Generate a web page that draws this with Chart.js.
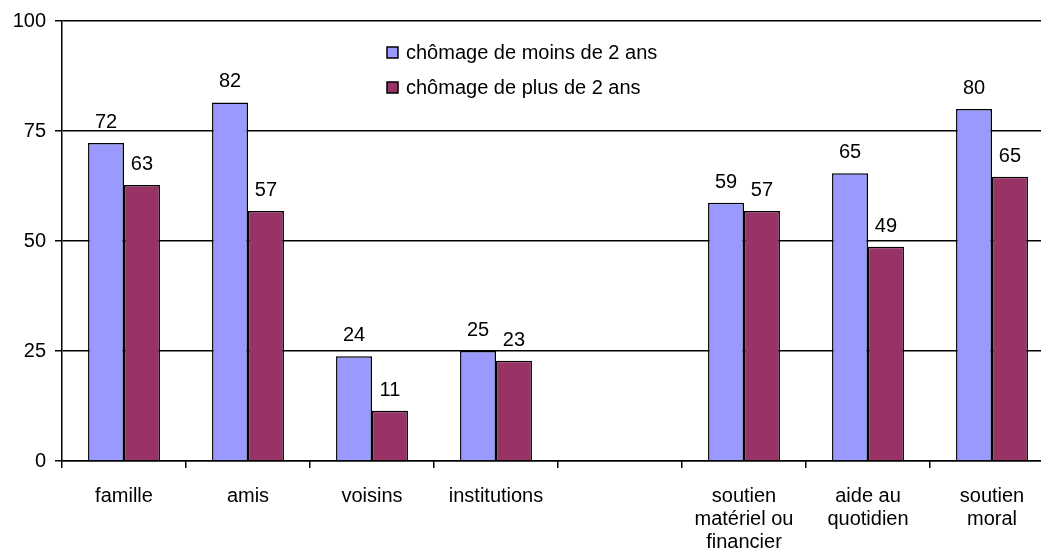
<!DOCTYPE html>
<html>
<head>
<meta charset="utf-8">
<script src="https://cdn.jsdelivr.net/npm/chart.js@4/dist/chart.umd.min.js"></script>
<style>
html,body{margin:0;padding:0;background:#fff;overflow:hidden;width:1041px;height:556px;}
#wrap{position:absolute;left:0;top:0;width:1070px;height:556px;}
</style>
</head>
<body>
<div id="wrap"><canvas id="c" width="1070" height="556"></canvas></div>
<script>
const categories = [["famille"],["amis"],["voisins"],["institutions"],[""],["soutien","matériel ou","financier"],["aide au","quotidien"],["soutien","moral"]];
const seriesNames = ["chômage de moins de 2 ans","chômage de plus de 2 ans"];
const shortTerm = [72.3, 81.5, 23.8, 25.0, null, 58.7, 65.4, 80.0];
const longTerm  = [62.7, 56.8, 11.4, 22.8, null, 56.8, 48.7, 64.6];
const yTicks = [0,25,50,75,100];
const colors = ["#9999FF","#993366"];
const FONT = "Liberation Sans, Arial, sans-serif";

const valueLabels = {
  id:'valueLabels',
  afterDatasetsDraw(chart){
    const ctx = chart.ctx;
    ctx.save();
    ctx.font = "20px " + FONT;
    ctx.fillStyle = "#000";
    ctx.textAlign = "center";
    ctx.textBaseline = "alphabetic";
    chart.data.datasets.forEach((ds,i)=>{
      const meta = chart.getDatasetMeta(i);
      meta.data.forEach((bar,j)=>{
        const v = ds.data[j];
        if (v === null || v === undefined) return;
        ctx.fillText(String(Math.round(v)), bar.x, bar.y - 15);
      });
    });
    ctx.restore();
  }
};

const customLegend = {
  id:'customLegend',
  afterDraw(chart){
    const ctx = chart.ctx;
    ctx.save();
    ctx.font = "20px " + FONT;
    ctx.textBaseline = "middle";
    ctx.textAlign = "left";
    const rows = [53, 88];
    chart.data.datasets.forEach((ds,i)=>{
      const y = rows[i];
      ctx.fillStyle = ds.backgroundColor;
      ctx.fillRect(387, y-6, 11, 11);
      ctx.strokeStyle = "#000";
      ctx.lineWidth = 1.5;
      ctx.strokeRect(387, y-6, 11, 11);
      ctx.fillStyle = "#000";
      ctx.fillText(ds.label, 406, y);
    });
    ctx.restore();
  }
};

new Chart(document.getElementById('c'), {
  type:'bar',
  data:{
    labels: categories,
    datasets:[
      {label: seriesNames[0], data: shortTerm, backgroundColor: colors[0], borderColor:"#000", borderWidth:1.5, categoryPercentage:0.58, barPercentage:1.0},
      {label: seriesNames[1], data: longTerm, backgroundColor: colors[1], borderColor:"#000", borderWidth:1.5, categoryPercentage:0.58, barPercentage:1.0}
    ]
  },
  options:{
    responsive:false,
    animation:false,
    devicePixelRatio:1,
    layout:{padding:{left:0,right:16,top:20,bottom:0}},
    plugins:{legend:{display:false}, tooltip:{enabled:false}},
    scales:{
      x:{
        offset:true,
        grid:{offset:true, drawOnChartArea:false, color:"#000", tickLength:7, tickColor:"#000", lineWidth:1.5},
        border:{color:"#000", width:1.5},
        ticks:{color:"#000", font:{family:FONT, size:20, lineHeight:1.15}, padding:17, maxRotation:0, autoSkip:false},
        afterFit(s){ s.height = 95; }
      },
      y:{
        min:0, max:100,
        afterBuildTicks(s){ s.ticks = yTicks.map(v=>({value:v})); },
        grid:{color:"#000", lineWidth:1.5, tickLength:7, tickColor:"#000", drawTicks:true},
        border:{color:"#000", width:1.5},
        ticks:{color:"#000", font:{family:FONT, size:20}, padding:9},
        afterFit(s){ s.width = 62; }
      }
    }
  },
  plugins:[valueLabels, customLegend]
});
</script>
</body>
</html>
